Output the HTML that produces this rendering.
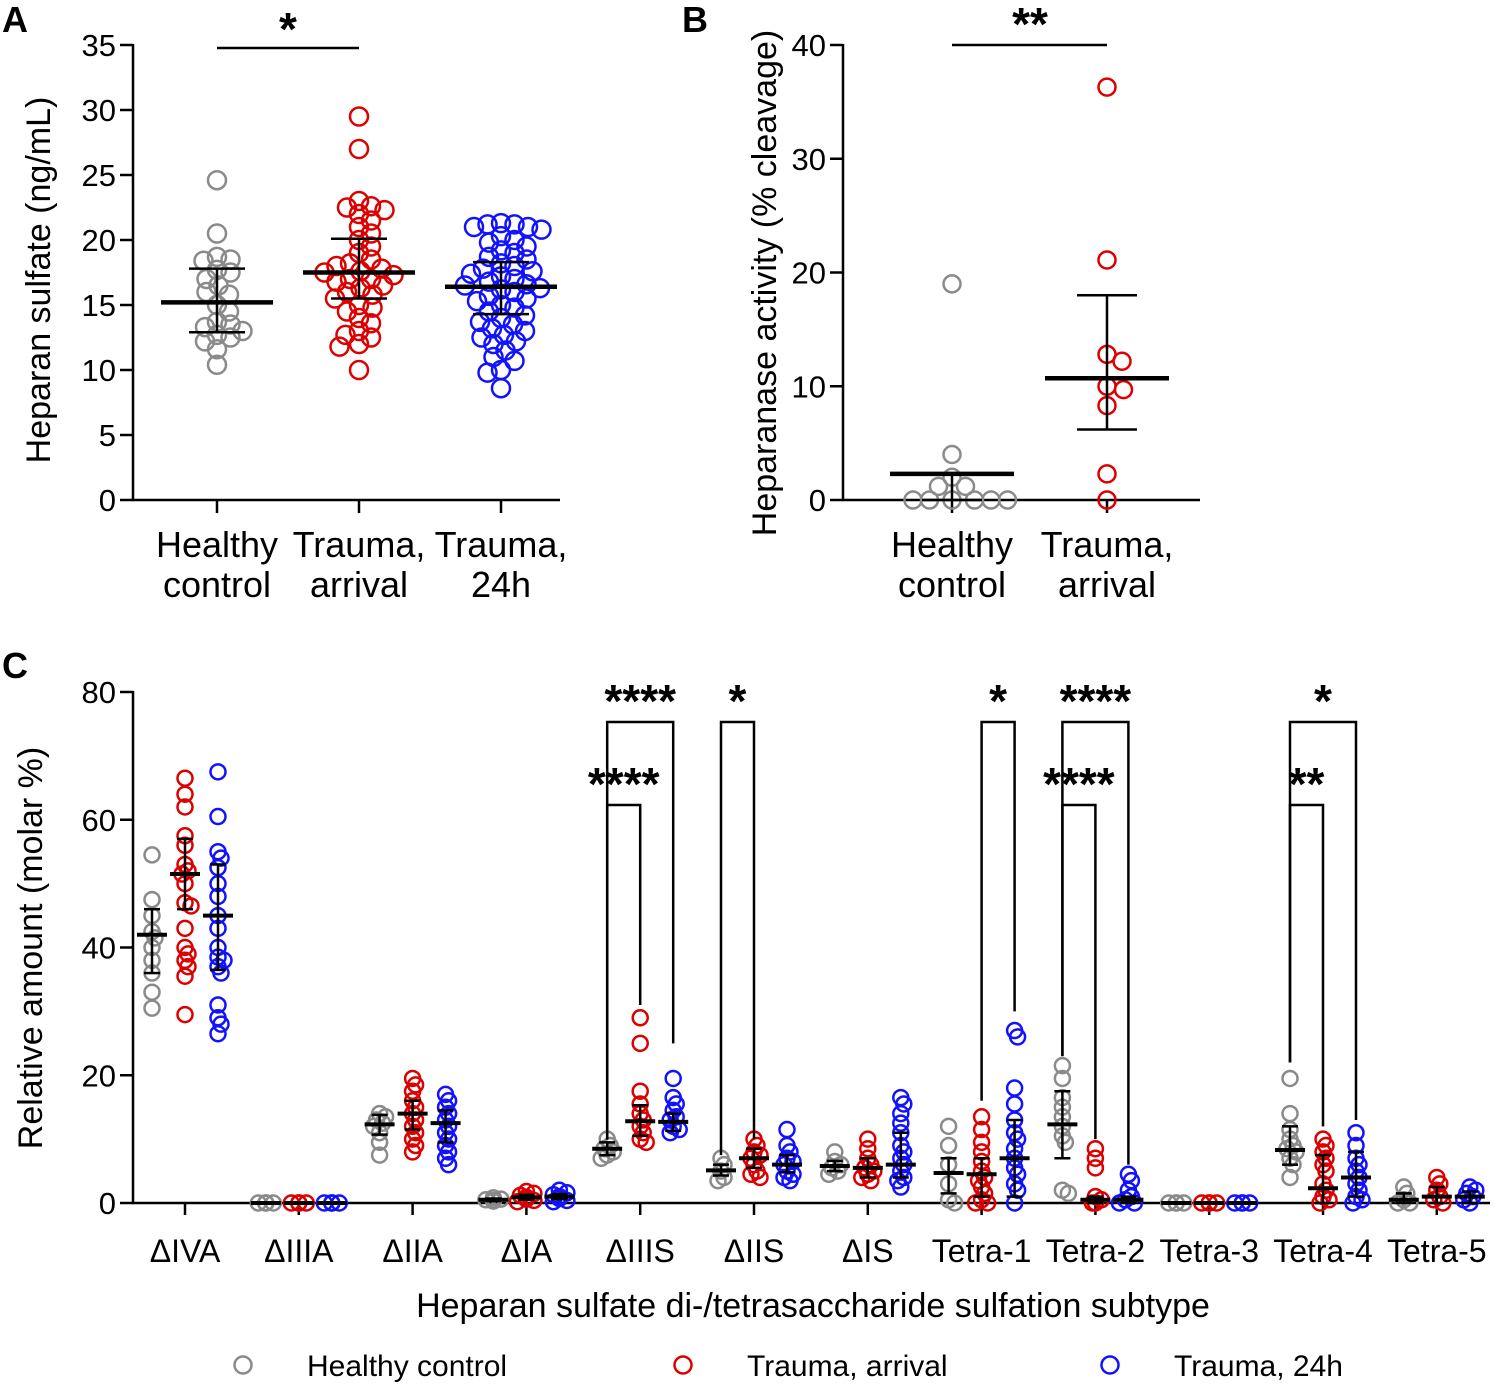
<!DOCTYPE html>
<html><head><meta charset="utf-8">
<style>
html,body{margin:0;padding:0;background:#fff;}
svg{display:block;font-family:"Liberation Sans",Arial,sans-serif;}
</style></head>
<body>
<svg id="chart" width="1495" height="1386" viewBox="0 0 1495 1386" xmlns="http://www.w3.org/2000/svg">
<text x="2" y="32" font-size="36" font-weight="bold">A</text>
<text x="682" y="32" font-size="36" font-weight="bold">B</text>
<text x="2" y="678" font-size="36" font-weight="bold">C</text>
<g id="gA"></g>
<g id="gB"></g>
<g id="gC"></g>
</svg>
<script>
// ---------- Panel A data ----------
const A_categories = [['Healthy','control'],['Trauma,','arrival'],['Trauma,','24h']];
const A_healthy = [24.6,20.5,18.7,18.5,18.4,17.7,17.5,17,16.5,16,15.8,15,14.5,13.7,13.5,13.3,13,12.7,12.5,12.2,11.6,10.4];
const A_arrival = [29.5,27,23,22.6,22.5,22.3,22,21.5,21,20.5,20,19.5,19,18.5,18.2,18,17.8,17.6,17.5,17.3,17,17,16.8,16.5,16.3,16,15.8,15.5,15,14.8,14.5,14,13.6,13,12.7,12.5,12,11.8,10];
const A_24h = [21.3,21.2,21.2,21,21,20.8,20.3,20,19.8,19.5,19.2,19,18.7,18.5,18.2,18,17.8,17.6,17.4,17.2,17,16.8,16.6,16.5,16.3,16.2,16,15.7,15.5,15.3,15,14.8,14.5,14.2,14,13.7,13.5,13.2,13,12.7,12.5,12.2,12,11.5,11,10.7,10,9.8,8.6];
const A_means = [15.2,17.5,16.4];
const A_sdLow = [12.9,15.5,14.3];
const A_sdHigh = [17.8,20.1,18.3];
const A_ticks = [0,5,10,15,20,25,30,35];

// ---------- Panel B data ----------
const B_categories = [['Healthy','control'],['Trauma,','arrival']];
const B_healthy = [19,4,2,1.2,1.2,0,0,0,0,0,0];
const B_arrival = [36.3,21.1,12.8,12.2,10,9.7,8.3,2.3,0];
const B_means = [2.3,10.7];
const B_sdLow = [0,6.2];
const B_sdHigh = [2.3,18];
const B_ticks = [0,10,20,30,40];

// ---------- Panel C data ----------
const C_categories = ['ΔIVA','ΔIIIA','ΔIIA','ΔIA','ΔIIIS','ΔIIS','ΔIS','Tetra-1','Tetra-2','Tetra-3','Tetra-4','Tetra-5'];
const C_healthy = [
 [54.5,47.5,45,42.5,41.5,40,38,36,33,30.5],
 [0,0,0,0,0],
 [14,13.5,13,12.5,12,11,9.5,7.5],
 [0.8,0.6,0.5,0.4,0.3],
 [10,9,8.5,8,7.5,7],
 [7,6,5,4,3.5],
 [8,6.5,6,5.5,5,4.5],
 [12,9,6,3,0.5,0],
 [21.5,19.5,16.5,15,13.5,12,10.5,9.5,2,1.5],
 [0,0,0,0],
 [19.5,14,11.5,10,9,8.5,8,7,6,4],
 [2.5,1.5,0.5,0,0]];
const C_arrival = [
 [66.5,64,62,57.5,56,53,52,51.5,50,47,46.5,43,40,39,38,37,35.5,29.5],
 [0,0,0,0,0],
 [19.5,18.5,17.5,16,15,14,13,12,11,10,9,8],
 [1.8,1.5,1.2,0.9,0.6,0.4,0.2],
 [29,25,17.5,15.5,14,13,12,11,10,9.5],
 [10,9,8,7.5,7,6,5,4.5,4],
 [10,8.5,7,6,5.5,5,4.5,4,3.5],
 [13.5,11.5,9.5,8,6.5,5,4,3.5,2.5,1.5,0.5,0,0],
 [8.5,7,5.5,1,0.5,0,0],
 [0,0,0,0],
 [10,9,8,7,6,5,3,2,1,0.5,0],
 [4,3,2,1,0.5,0]];
const C_24h = [
 [67.5,60.5,55,54,52.5,50,48,45,43,40,38.5,38,37,36,31,29,28,26.5],
 [0,0,0,0,0],
 [17,16,15,14,13,12,11,10,9,8,7,6],
 [2,1.6,1.3,1,0.7,0.4,0.2],
 [19.5,16.5,15.5,14.5,13.5,13,12,11.5,11],
 [11.5,9,8,7,6.5,6,5,4.5,4,3.5],
 [16.5,15.5,14,12.5,11,9,8,7,6,5,4,3.5,2.5],
 [27,26,18,15.5,13,11,10,8.5,7,5.5,4.5,3,2,0],
 [4.5,3.5,2,1,0.5,0,0],
 [0,0,0,0],
 [11,9,7,6,5,4,3,2,1,0.5,0],
 [2.5,2,1.5,1,0.5,0]];
const C_meanH = [42,0,12.3,0.5,8.5,5.1,5.8,4.7,12.3,0,8.3,0.5];
const C_lowH  = [36,0,10.7,0.3,7.5,4.3,5,1.5,7,0,6,0];
const C_highH = [46,0,13.8,0.7,9.5,6,6.6,7,17.5,0,12,1.5];
const C_meanA = [51.5,0,14,0.9,12.8,7,5.5,4.5,0.5,0,2.3,1];
const C_lowA  = [46,0,11.5,0.5,10.5,5.5,4,1,0,0,0,0];
const C_highA = [57,0,16,1.3,15.3,8.5,7,7,1,0,7.5,2.5];
const C_mean24 = [45,0,12.5,1,12.7,6,6,7,0.5,0,4,1];
const C_low24  = [36.5,0,9.5,0.6,11.3,4.8,4,1,0,0,1,0];
const C_high24 = [53,0,14.5,1.4,14,7.5,11,13,1,0,8,1.8];
const C_ticks = [0,20,40,60,80];
// brackets: category index, group a, group b, top value, left-drop value, right-drop value, label
const C_brackets = [
 [4,0,2,75.3,9.9,25,'****'],
 [4,0,1,62.3,10,31,'****'],
 [5,0,1,75.3,7.5,10,'*'],
 [7,1,2,75.3,16,30,'*'],
 [8,0,2,75.3,23,6,'****'],
 [8,0,1,62.3,23,10,'****'],
 [10,0,2,75.3,22,13,'*'],
 [10,0,1,62.3,22,12,'**']];

const NS='http://www.w3.org/2000/svg';
const COLORS=['#8a8a8a','#dd0000','#1212ff'];
function mk(parent,tag,attrs){const e=document.createElementNS(NS,tag);for(const k in attrs)e.setAttribute(k,attrs[k]);parent.appendChild(e);return e;}
function swarm(vals,cx,ys,r,step,factor,maxOff){
  const sorted=vals.map(v=>ys(v)).sort((a,b)=>a-b);const placed=[];const out=[];
  const md=(2*r*factor)**2;
  for(const y of sorted){
    let best=null,bestD=-1,found=null;
    for(let k=0;k*step<=maxOff;k++){
      const cands=k===0?[0]:[k*step,-k*step];
      for(const c of cands){const xx=cx+c;
        let d=Infinity;placed.forEach(p=>{d=Math.min(d,(p[0]-xx)**2+(p[1]-y)**2);});
        if(d>=md){found=xx;break;}
        if(d>bestD){bestD=d;best=xx;}
      }
      if(found!==null)break;
    }
    const x=found!==null?found:cx;
    placed.push([x,y]);out.push([x,y]);
  }
  return out;
}
function dots(g,vals,cx,ys,r,color,name,sw,factor,maxOff){
  swarm(vals,cx,ys,r,1.5,factor,maxOff).forEach(p=>{
    const c=mk(g,'circle',{cx:p[0],cy:p[1],r:r,fill:'none',stroke:color,'stroke-width':sw});
    
    
  });
}
function errbar(g,cx,ys,m,lo,hi,mw,cw,mt,ct,name){
  const e=mk(g,'g',{});
  
  
  mk(e,'line',{x1:cx,x2:cx,y1:ys(lo),y2:ys(hi),stroke:'#000','stroke-width':ct});
  mk(e,'line',{x1:cx-cw,x2:cx+cw,y1:ys(lo),y2:ys(lo),stroke:'#000','stroke-width':ct});
  mk(e,'line',{x1:cx-cw,x2:cx+cw,y1:ys(hi),y2:ys(hi),stroke:'#000','stroke-width':ct});
  mk(e,'line',{x1:cx-mw,x2:cx+mw,y1:ys(m),y2:ys(m),stroke:'#000','stroke-width':mt});
}
function txt(g,x,y,s,size,anchor,name,extra){
  const t=mk(g,'text',Object.assign({x:x,y:y,'font-size':size,'text-anchor':anchor},extra||{}));t.textContent=s;
  
  
  return t;
}

// ---------- Panel A ----------
(function(){
  const g=document.getElementById('gA');
  const ys=v=>500-v*13;const xs=[217,359,501];
  mk(g,'line',{x1:133,x2:133,y1:44,y2:501,stroke:'#000','stroke-width':2.5});
  mk(g,'line',{x1:132,x2:560,y1:500,y2:500,stroke:'#000','stroke-width':2.5});
  A_ticks.forEach(t=>{mk(g,'line',{x1:120,x2:133,y1:ys(t),y2:ys(t),stroke:'#000','stroke-width':2.5});
    txt(g,116,ys(t)+11,String(t),31,'end','y-tick-label');});
  xs.forEach((x,i)=>{mk(g,'line',{x1:x,x2:x,y1:500,y2:513,stroke:'#000','stroke-width':2.5});
    txt(g,x,557,A_categories[i][0],36,'middle','x-tick-label');txt(g,x,597,A_categories[i][1],36,'middle','x-tick-label');});
  txt(g,0,0,'Heparan sulfate (ng/mL)',34,'middle','y-axis-title',{transform:'translate(50,280) rotate(-90)'});
  [A_healthy,A_arrival,A_24h].forEach((d,i)=>dots(g,d,xs[i],ys,9,COLORS[i],'data-point',2.5,0.72,58));
  xs.forEach((x,i)=>errbar(g,x,ys,A_means[i],A_sdLow[i],A_sdHigh[i],56,28,4.5,2.5,'mean-sd-bar'));
  mk(g,'line',{x1:217,x2:359,y1:48,y2:48,stroke:'#000','stroke-width':2.5});
  txt(g,288,45,'*',46,'middle','significance-label',{'font-weight':'bold'});
})();

// ---------- Panel B ----------
(function(){
  const g=document.getElementById('gB');
  const ys=v=>500-v*11.375;const xs=[952,1107];
  mk(g,'line',{x1:843,x2:843,y1:44,y2:501,stroke:'#000','stroke-width':2.5});
  mk(g,'line',{x1:842,x2:1200,y1:500,y2:500,stroke:'#000','stroke-width':2.5});
  B_ticks.forEach(t=>{mk(g,'line',{x1:830,x2:843,y1:ys(t),y2:ys(t),stroke:'#000','stroke-width':2.5});
    txt(g,826,ys(t)+11,String(t),31,'end','y-tick-label');});
  xs.forEach((x,i)=>{mk(g,'line',{x1:x,x2:x,y1:500,y2:513,stroke:'#000','stroke-width':2.5});
    txt(g,x,557,B_categories[i][0],36,'middle','x-tick-label');txt(g,x,597,B_categories[i][1],36,'middle','x-tick-label');});
  txt(g,0,0,'Heparanase activity (% cleavage)',34,'middle','y-axis-title',{transform:'translate(776,283) rotate(-90)'});
  [B_healthy,B_arrival].forEach((d,i)=>dots(g,d,xs[i],ys,8.5,COLORS[i],'data-point',2.5,0.92,70));
  xs.forEach((x,i)=>errbar(g,x,ys,B_means[i],B_sdLow[i],B_sdHigh[i],62,30,4.5,2.5,'mean-sd-bar'));
  mk(g,'line',{x1:952,x2:1107,y1:45,y2:45,stroke:'#000','stroke-width':2.5});
  txt(g,1030,40,'**',46,'middle','significance-label',{'font-weight':'bold'});
})();

// ---------- Panel C ----------
(function(){
  const g=document.getElementById('gC');
  const ys=v=>1203-v*6.3875;
  const xc=i=>185+i*113.8;const off=[-33,0,33];
  mk(g,'line',{x1:133,x2:133,y1:691,y2:1204,stroke:'#000','stroke-width':2.5});
  mk(g,'line',{x1:132,x2:1490,y1:1203,y2:1203,stroke:'#000','stroke-width':2.5});
  C_ticks.forEach(t=>{mk(g,'line',{x1:120,x2:133,y1:ys(t),y2:ys(t),stroke:'#000','stroke-width':2.5});
    txt(g,116,ys(t)+11,String(t),31,'end','y-tick-label');});
  C_categories.forEach((c,i)=>{mk(g,'line',{x1:xc(i),x2:xc(i),y1:1203,y2:1215,stroke:'#000','stroke-width':2.5});
    txt(g,xc(i),1262,c,32,'middle','x-tick-label');});
  txt(g,0,0,'Relative amount (molar %)',34,'middle','y-axis-title',{transform:'translate(42,948) rotate(-90)'});
  txt(g,813,1317,'Heparan sulfate di-/tetrasaccharide sulfation subtype',34,'middle','x-axis-title');
  const groups=[C_healthy,C_arrival,C_24h];
  const stats=[[C_meanH,C_lowH,C_highH],[C_meanA,C_lowA,C_highA],[C_mean24,C_low24,C_high24]];
  C_categories.forEach((c,i)=>{groups.forEach((gr,j)=>dots(g,gr[i],xc(i)+off[j],ys,7.5,COLORS[j],'data-point',2.5,0.45,10));});
  C_categories.forEach((c,i)=>{stats.forEach((s,j)=>errbar(g,xc(i)+off[j],ys,s[0][i],s[1][i],s[2][i],15,8,4,2.5,'mean-sd-bar'));});
  C_brackets.forEach(b=>{
    const x1=xc(b[0])+off[b[1]],x2=xc(b[0])+off[b[2]];
    const p=mk(g,'polyline',{points:`${x1},${ys(b[4])} ${x1},${ys(b[3])} ${x2},${ys(b[3])} ${x2},${ys(b[5])}`,fill:'none',stroke:'#000','stroke-width':2.5});
    
    
    txt(g,(x1+x2)/2,ys(b[3])-5,b[6],46,'middle','significance-label',{'font-weight':'bold'});
  });
  const leg=[['Healthy control',243],['Trauma, arrival',683],['Trauma, 24h',1110]];
  leg.forEach((l,j)=>{
    const e=mk(g,'g',{});
    
    
    mk(e,'circle',{cx:l[1],cy:1365,r:8.5,fill:'none',stroke:COLORS[j],'stroke-width':2.5});
    txt(e,l[1]+64,1376,l[0],30,'start','legend-label');
  });
})();
</script>
</body></html>
